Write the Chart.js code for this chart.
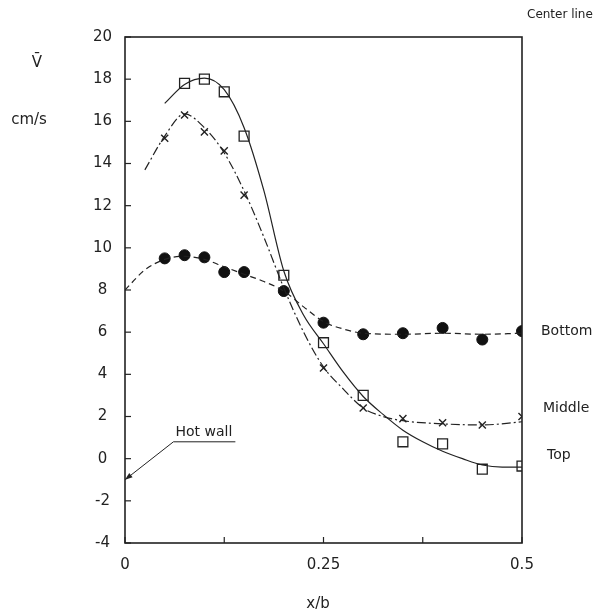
<!DOCTYPE html>
<html>
<head>
<meta charset="utf-8">
<script src="https://cdn.jsdelivr.net/npm/chart.js@4.4.1/dist/chart.umd.min.js"></script>
<style>
  html, body { margin: 0; padding: 0; background: #fff; }
  #wrap { width: 600px; height: 612px; }
</style>
</head>
<body>
<div id="wrap"><canvas id="velocity" width="600" height="612"></canvas></div>
<script>
// measured points, x/b against mean velocity (cm/s)
var xTop = [0.075, 0.1, 0.125, 0.15, 0.2, 0.25, 0.3, 0.35, 0.4, 0.45, 0.5];
var vTop = [17.8, 18.0, 17.4, 15.3, 8.7, 5.5, 3.0, 0.8, 0.7, -0.5, -0.35];

var xMiddle = [0.05, 0.075, 0.1, 0.125, 0.15, 0.25, 0.3, 0.35, 0.4, 0.45, 0.5];
var vMiddle = [15.2, 16.3, 15.5, 14.6, 12.5, 4.3, 2.4, 1.9, 1.7, 1.6, 2.0];

var xBottom = [0.05, 0.075, 0.1, 0.125, 0.15, 0.2, 0.25, 0.3, 0.35, 0.4, 0.45, 0.5];
var vBottom = [9.5, 9.65, 9.55, 8.85, 8.85, 7.95, 6.45, 5.9, 5.95, 6.2, 5.65, 6.05];

// fitted curves
var xTopFit = [0.05, 0.075, 0.1, 0.125, 0.15, 0.175, 0.2, 0.225, 0.25, 0.275, 0.3, 0.325, 0.35, 0.375, 0.4, 0.425, 0.45, 0.475, 0.5];
var vTopFit = [16.85, 17.75, 18.05, 17.5, 15.7, 12.7, 8.9, 6.8, 5.45, 4.1, 2.95, 2.1, 1.35, 0.8, 0.35, 0.0, -0.3, -0.4, -0.4];

var xMiddleFit = [0.025, 0.05, 0.075, 0.1, 0.125, 0.15, 0.175, 0.2, 0.225, 0.25, 0.275, 0.3, 0.325, 0.35, 0.4, 0.45, 0.5];
var vMiddleFit = [13.7, 15.3, 16.35, 15.7, 14.5, 12.7, 10.5, 8.1, 6.0, 4.35, 3.3, 2.4, 2.0, 1.8, 1.65, 1.6, 1.75];

var xBottomFit = [0, 0.025, 0.05, 0.075, 0.1, 0.125, 0.15, 0.175, 0.2, 0.225, 0.25, 0.275, 0.3, 0.35, 0.4, 0.45, 0.5];
var vBottomFit = [8.0, 8.95, 9.45, 9.6, 9.45, 9.1, 8.75, 8.4, 7.95, 7.2, 6.5, 6.15, 5.95, 5.9, 5.95, 5.9, 5.95];

var xTickValues = [0, 0.25, 0.5];
var xTickText = ['0', '0.25', '0.5'];

function pairs(xs, ys) {
  return xs.map(function (x, i) { return { x: x, y: ys[i] }; });
}

var ink = '#222';

var annotations = {
  id: 'annotations',
  afterDraw: function (chart) {
    var ctx = chart.ctx, a = chart.chartArea;
    var xs = chart.scales.x, ys = chart.scales.y;
    ctx.save();
    ctx.strokeStyle = ink;
    ctx.fillStyle = ink;

    // frame
    ctx.lineWidth = 1.6;
    ctx.strokeRect(a.left, a.top, a.right - a.left, a.bottom - a.top);

    // inward tick marks
    ctx.lineWidth = 1.2;
    ys.ticks.forEach(function (t) {
      var py = ys.getPixelForValue(t.value);
      ctx.beginPath(); ctx.moveTo(a.left, py); ctx.lineTo(a.left + 6, py); ctx.stroke();
    });
    xs.ticks.forEach(function (t) {
      var px = xs.getPixelForValue(t.value);
      ctx.beginPath(); ctx.moveTo(px, a.bottom); ctx.lineTo(px, a.bottom - 6); ctx.stroke();
    });

    // hot wall pointer
    var tipX = xs.getPixelForValue(0), tipY = ys.getPixelForValue(-1);
    var elX = xs.getPixelForValue(0.061), elY = ys.getPixelForValue(0.8);
    var endX = xs.getPixelForValue(0.139);
    ctx.lineWidth = 1;
    ctx.beginPath(); ctx.moveTo(endX, elY); ctx.lineTo(elX, elY); ctx.lineTo(tipX, tipY); ctx.stroke();
    var ang = Math.atan2(tipY - elY, tipX - elX);
    ctx.beginPath();
    ctx.moveTo(tipX, tipY);
    ctx.lineTo(tipX - 8 * Math.cos(ang - 0.35), tipY - 8 * Math.sin(ang - 0.35));
    ctx.lineTo(tipX - 8 * Math.cos(ang + 0.35), tipY - 8 * Math.sin(ang + 0.35));
    ctx.closePath(); ctx.fill();

    ctx.font = '14px "DejaVu Sans"';
    ctx.textBaseline = 'middle';
    ctx.textAlign = 'left';
    ctx.fillText('Hot wall', elX + 2, elY - 9);

    // series names at the centre line
    ctx.fillText('Bottom', a.right + 19, 331);
    ctx.fillText('Middle', a.right + 21, 408);
    ctx.fillText('Top', a.right + 25, 455);

    ctx.font = '12px "DejaVu Sans"';
    ctx.fillText('Center line', a.right + 5, 15);

    // axis titles
    ctx.textAlign = 'center';
    ctx.font = '15px "DejaVu Sans"';
    ctx.fillText('V\u0304', 37, 63);
    ctx.fillText('cm/s', 29, 120);
    ctx.fillText('x/b', 318, 604);
    ctx.restore();
  }
};

new Chart(document.getElementById('velocity'), {
  type: 'scatter',
  data: {
    datasets: [
      {
        label: 'Top fit', data: pairs(xTopFit, vTopFit), showLine: true,
        borderColor: ink, borderWidth: 1.2, pointRadius: 0, cubicInterpolationMode: 'monotone'
      },
      {
        label: 'Middle fit', data: pairs(xMiddleFit, vMiddleFit), showLine: true,
        borderColor: ink, borderWidth: 1.2, borderDash: [9, 3, 2, 3], pointRadius: 0, cubicInterpolationMode: 'monotone'
      },
      {
        label: 'Bottom fit', data: pairs(xBottomFit, vBottomFit), showLine: true,
        borderColor: ink, borderWidth: 1.2, borderDash: [6, 4], pointRadius: 0, cubicInterpolationMode: 'monotone'
      },
      {
        label: 'Top', data: pairs(xTop, vTop), showLine: false,
        pointStyle: 'rect', pointRadius: 7, borderColor: ink, borderWidth: 1.3, backgroundColor: 'rgba(0,0,0,0)'
      },
      {
        label: 'Middle', data: pairs(xMiddle, vMiddle), showLine: false,
        pointStyle: 'crossRot', pointRadius: 5, borderColor: ink, borderWidth: 1.4
      },
      {
        label: 'Bottom', data: pairs(xBottom, vBottom), showLine: false,
        pointStyle: 'circle', pointRadius: 5.5, borderColor: '#111', borderWidth: 1, backgroundColor: '#111'
      }
    ]
  },
  options: {
    responsive: false,
    animation: false,
    layout: { padding: { left: 0, right: 78, top: 37, bottom: 0 } },
    plugins: { legend: { display: false }, tooltip: { enabled: false } },
    scales: {
      x: {
        type: 'linear', min: 0, max: 0.5,
        afterFit: function (s) { s.height = 69; },
        grid: { display: false, drawTicks: false },
        border: { display: false },
        ticks: {
          stepSize: 0.125, autoSkip: false, maxRotation: 0, padding: 13,
          color: ink, font: { family: 'DejaVu Sans', size: 15 },
          callback: function (v) {
            var i = xTickValues.indexOf(v);
            return i < 0 ? '' : xTickText[i];
          }
        }
      },
      y: {
        min: -4, max: 20,
        afterFit: function (s) { s.width = 125; },
        grid: { display: false, drawTicks: false },
        border: { display: false },
        ticks: {
          stepSize: 2, crossAlign: 'center', padding: 13,
          color: ink, font: { family: 'DejaVu Sans', size: 15 },
          callback: function (v) { return String(v); }
        }
      }
    }
  },
  plugins: [annotations]
});
</script>
</body>
</html>
